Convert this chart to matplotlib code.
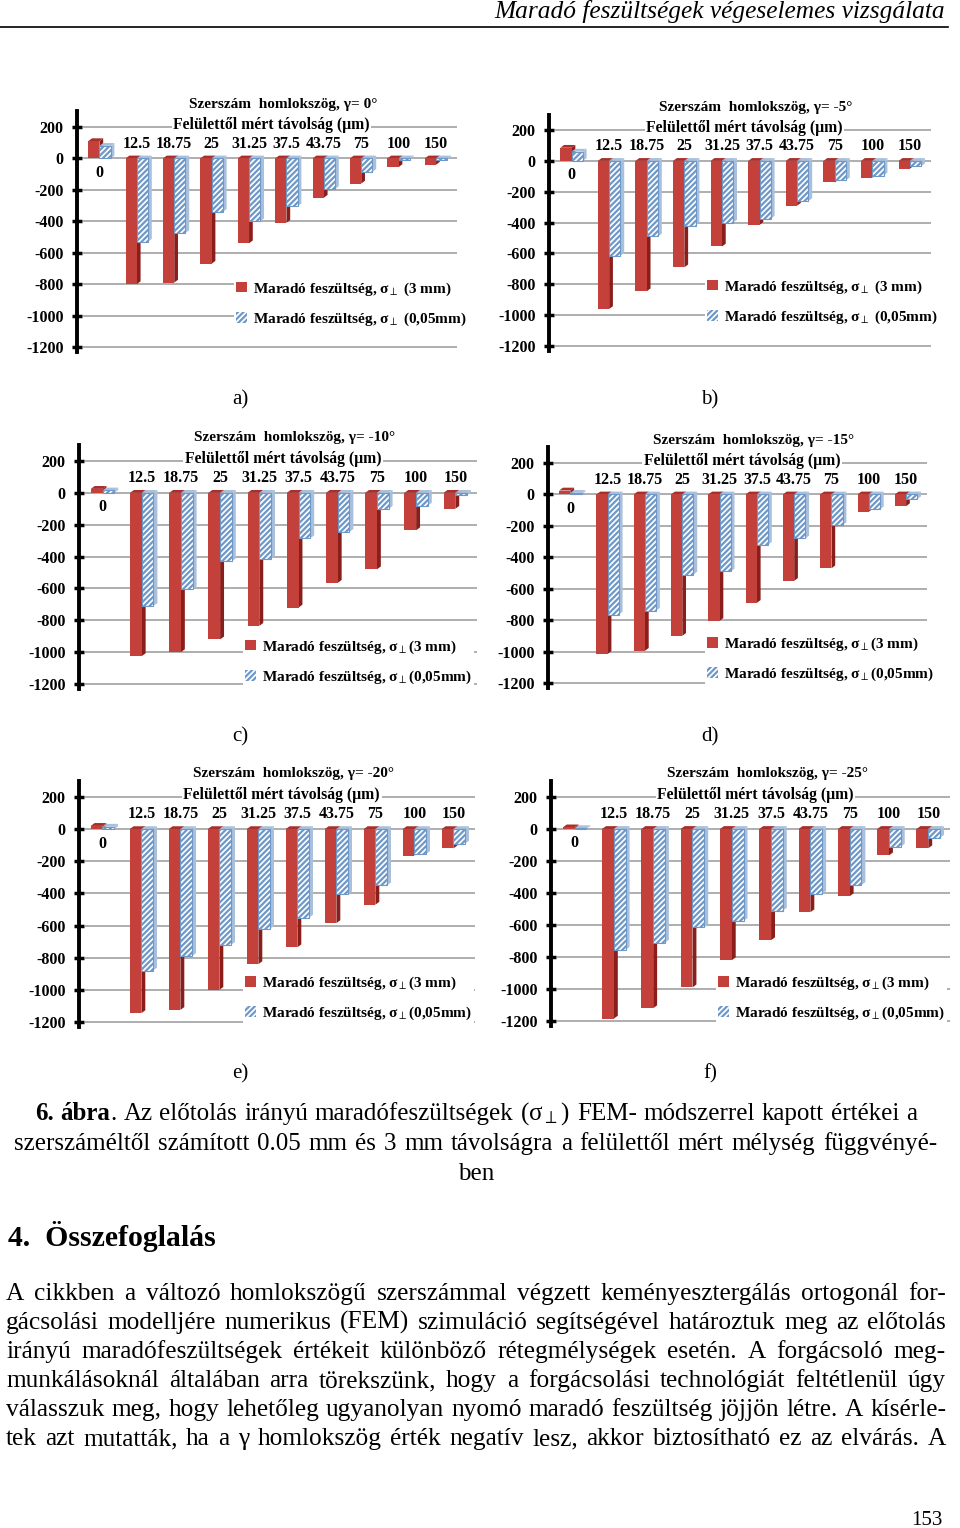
import matplotlib
matplotlib.use('Agg')
import matplotlib.pyplot as plt
from matplotlib.patches import Patch, Polygon
from matplotlib.lines import Line2D
import numpy as np

SERIF = ['Liberation Serif', 'DejaVu Serif']
plt.rcParams['font.family'] = SERIF
plt.rcParams['mathtext.fontset'] = 'stix'
plt.rcParams['hatch.linewidth'] = 1.6

# ---------------- data ----------------
depths = ['0', '12.5', '18.75', '25', '31.25', '37.5', '43.75', '75', '100', '150']
gammas = ['0', '-5', '-10', '-15', '-20', '-25']
panel_letters = ['a)', 'b)', 'c)', 'd)', 'e)', 'f)']

sigma_3mm_g0 = [110, -800, -790, -670, -540, -410, -250, -160, -55, -40]
sigma_005_g0 = [80, -530, -475, -340, -400, -305, -195, -85, -8, -8]
sigma_3mm_g5 = [85, -960, -845, -690, -555, -415, -290, -140, -110, -50]
sigma_005_g5 = [60, -615, -490, -420, -400, -375, -260, -125, -95, -35]
sigma_3mm_g10 = [25, -1025, -1000, -920, -835, -720, -565, -480, -235, -100]
sigma_005_g10 = [15, -710, -605, -430, -415, -285, -245, -100, -80, -15]
sigma_3mm_g15 = [25, -1015, -995, -900, -805, -690, -550, -470, -110, -75]
sigma_005_g15 = [10, -765, -740, -510, -490, -320, -280, -195, -95, -30]
sigma_3mm_g20 = [20, -1145, -1125, -1000, -840, -735, -585, -470, -165, -120]
sigma_005_g20 = [15, -880, -790, -720, -620, -550, -405, -350, -155, -90]
sigma_3mm_g25 = [10, -1185, -1120, -990, -820, -695, -520, -420, -165, -120]
sigma_005_g25 = [5, -755, -710, -615, -575, -510, -405, -350, -110, -55]

sigma_3mm = [sigma_3mm_g0, sigma_3mm_g5, sigma_3mm_g10, sigma_3mm_g15, sigma_3mm_g20, sigma_3mm_g25]
sigma_005 = [sigma_005_g0, sigma_005_g5, sigma_005_g10, sigma_005_g15, sigma_005_g20, sigma_005_g25]
yticks = [-1200, -1000, -800, -600, -400, -200, 0, 200]

legend_labels_ab = ['Maradó feszültség, σ$_{\\perp}$ (3 mm)', 'Maradó feszültség, σ$_{\\perp}$ (0,05mm)']
legend_labels_cf = ['Maradó feszültség, σ$_{\\perp}$(3 mm)', 'Maradó feszültség, σ$_{\\perp}$(0,05mm)']

# ---------------- layout (pixels) ----------------
W, H = 960, 1528
fig = plt.figure(figsize=(W / 100, H / 100), dpi=100)
renderer = fig.canvas.get_renderer()


def fx(x):
    return x / W


def fy(y):
    return 1 - y / H


# axis-left px, category step px, y(200) px, y(-1200) px
panel_geom = [(77, 37.4, 127, 347), (549, 37.6, 130, 346),
              (79, 39.2, 461, 684), (548, 37.3, 463, 683),
              (79, 39.0, 797, 1022), (551, 39.3, 797, 1021)]
legend_pos = [(236, 288, 320), (707, 286, 318),
              (245, 646, 678), (707, 643, 676),
              (245, 982, 1015), (718, 982, 1015)]
panel_label_pos = [(240, 400), (710, 400), (240, 737), (710, 737), (240, 1074), (710, 1074)]

RED = '#C3403B'
RED_SIDE = '#8A1E1B'
RED_TOP = '#A8302C'
HATCH = '#6E98C8'
BLUE_SIDE = '#A9C0DC'
GRID = '#A8A8A8'
DX, DY = 0.1, 18


def add_3d(ax, bars, side_color, top_color, z):
    for p in bars:
        x0 = p.get_x()
        w = p.get_width()
        y0 = p.get_y()
        h = p.get_height()
        xr = x0 + w
        lo, hi = min(y0, y0 + h), max(y0, y0 + h)
        ax.add_patch(Polygon([(xr, lo), (xr + DX, lo + DY), (xr + DX, hi + DY), (xr, hi)],
                             closed=True, facecolor=side_color, edgecolor='none', zorder=z))
        ax.add_patch(Polygon([(x0, hi), (xr, hi), (xr + DX, hi + DY), (x0 + DX, hi + DY)],
                             closed=True, facecolor=top_color, edgecolor='none', zorder=z))


for k in range(6):
    left, step, y200, y1200 = panel_geom[k]
    ppu = (y1200 - y200) / 1400.0
    top = y200 - 100 * ppu
    bottom = y1200 + 30 * ppu
    width = 10.2 * step
    ax = fig.add_axes([fx(left), fy(bottom), width / W, (bottom - top) / H])
    ax.set_xlim(-0.6, 9.6)
    ax.set_ylim(-1230, 300)
    ax.patch.set_visible(False)
    for s in ['top', 'right', 'bottom']:
        ax.spines[s].set_visible(False)
    ax.spines['left'].set_linewidth(2.8)
    ax.set_xticks([])
    ax.set_yticks(yticks)
    ax.set_yticklabels([str(v) for v in yticks])
    ax.tick_params(axis='y', direction='inout', length=7, width=2.5, pad=6, labelsize=11.5)
    for lab in ax.get_yticklabels():
        lab.set_fontweight('bold')
    ax.hlines(yticks, -0.45, 9.55, color=GRID, lw=1.3, zorder=0)

    x = np.arange(len(depths))
    bw = 0.3
    s3 = sigma_3mm[k]
    s005 = sigma_005[k]
    b1 = ax.bar(x - bw / 2, s3, bw, color=RED, zorder=2)
    add_3d(ax, b1, RED_SIDE, RED_TOP, 1.9)
    b2 = ax.bar(x + bw / 2, s005, bw, facecolor='white', edgecolor=HATCH,
                hatch='//////', lw=0.8, zorder=4)
    add_3d(ax, b2, BLUE_SIDE, BLUE_SIDE, 3.9)

    for i, lab in enumerate(depths):
        yl = 95 if s3[i] < 0 else -90
        ax.text(i, yl, lab, ha='center', va='center', fontsize=11.5, fontweight='bold', zorder=6)

    ax.text(4.9, 345, 'Szerszám  homlokszög, γ= %s°' % gammas[k], ha='center', va='center',
            fontsize=11, fontweight='bold', zorder=6)
    ax.text(4.6, 212, 'Felülettől mért távolság (μm)', ha='center', va='center',
            fontsize=11.3, fontweight='bold', zorder=6,
            bbox=dict(facecolor='white', edgecolor='none', pad=1))

    mx, r1, r2 = legend_pos[k]
    handles = [Patch(facecolor=RED, edgecolor='none'),
               Patch(facecolor='white', edgecolor=HATCH, hatch='//////', lw=0)]
    labels = legend_labels_ab if k < 2 else legend_labels_cf
    leg = ax.legend(handles, labels, loc='center left', bbox_to_anchor=(fx(mx - 2), fy((r1 + r2) / 2)),
                    bbox_transform=fig.transFigure, frameon=True,
                    prop=dict(family=SERIF, weight='bold', size=11), labelspacing=0.85,
                    handlelength=0.7, handleheight=0.7, handletextpad=0.4,
                    borderpad=0.15, borderaxespad=0)
    leg.get_frame().set_edgecolor('none')
    leg.get_frame().set_facecolor('white')
    leg.get_frame().set_alpha(1)
    leg.set_zorder(7)

    lx, ly = panel_label_pos[k]
    fig.text(fx(lx), fy(ly), panel_letters[k], ha='center', va='center', fontsize=15, family=SERIF)


# ---------------- page text ----------------
def seg_width(s, size, weight='normal', style='normal'):
    t = fig.text(0, 0, s, fontsize=size, fontweight=weight, fontstyle=style, family=SERIF)
    w = t.get_window_extent(renderer=renderer).width
    t.remove()
    return w


def draw_justified(words, x0, x1, ybase, size):
    widths = [[seg_width(s, size, wt) for s, wt in w] for w in words]
    total = sum(sum(ws) for ws in widths)
    gap = (x1 - x0 - total) / (len(words) - 1)
    xx = x0
    for w, ws in zip(words, widths):
        for (s, wt), sw in zip(w, ws):
            fig.text(fx(xx), fy(ybase), s, fontsize=size, fontweight=wt, family=SERIF,
                     ha='left', va='baseline')
            xx += sw
        xx += gap


# header
header = 'Maradó feszültségek végeselemes vizsgálata'
hs = 15 * 453 / seg_width(header, 15, style='italic')
fig.text(fx(945), fy(18), header, fontsize=hs, fontstyle='italic', family=SERIF, ha='right', va='baseline')
fig.add_artist(Line2D([0, fx(948)], [fy(27), fy(27)], transform=fig.transFigure, color='black', lw=1.2))

# caption
cap1 = [[('6.', 'bold')], [('ábra', 'bold'), ('.', 'normal')]] + \
       [[(w, 'normal')] for w in 'Az előtolás irányú maradófeszültségek (σ$_{\\perp}$) FEM- módszerrel kapott értékei a'.split()]
cap2 = [[(w, 'normal')] for w in 'szerszáméltől számított 0.05 mm és 3 mm távolságra a felülettől mért mélység függvényé-'.split()]
cap1_plain = '6. ábra. Az előtolás irányú maradófeszültségek (σ$_{\\perp}$) FEM- módszerrel kapott értékei a'
cs = 16 * 872 / seg_width(cap1_plain, 16)
draw_justified(cap1, 35, 917, 1120, cs)
draw_justified(cap2, 14, 937, 1150, cs)
fig.text(fx(476), fy(1180), 'ben', fontsize=cs, family=SERIF, ha='center', va='baseline')

# section heading
heading = '4.  Összefoglalás'
hsz = 18 * 207 / seg_width(heading, 18, 'bold')
fig.text(fx(8), fy(1246), heading, fontsize=hsz, fontweight='bold', family=SERIF, ha='left', va='baseline')

para_lines = [
    'A cikkben a változó homlokszögű szerszámmal végzett keményesztergálás ortogonál for-',
    'gácsolási modelljére numerikus (FEM) szimuláció segítségével határoztuk meg az előtolás',
    'irányú maradófeszültségek értékeit különböző rétegmélységek esetén. A forgácsoló meg-',
    'munkálásoknál általában arra törekszünk, hogy a forgácsolási technológiát feltétlenül úgy',
    'válasszuk meg, hogy lehetőleg ugyanolyan nyomó maradó feszültség jöjjön létre. A kísérle-',
    'tek azt mutatták, ha a γ homlokszög érték negatív lesz, akkor biztosítható ez az elvárás. A',
]
ps = 16
maxw = max(seg_width(l, ps) for l in para_lines)
ps = ps * 932 / maxw
for j, line in enumerate(para_lines):
    draw_justified([[(w, 'normal')] for w in line.split()], 6, 946, 1300 + 29 * j, ps)

fig.text(fx(943), fy(1525), '153', fontsize=15, family=SERIF, ha='right', va='baseline')

fig.savefig('out.png', dpi=100, facecolor='white')
